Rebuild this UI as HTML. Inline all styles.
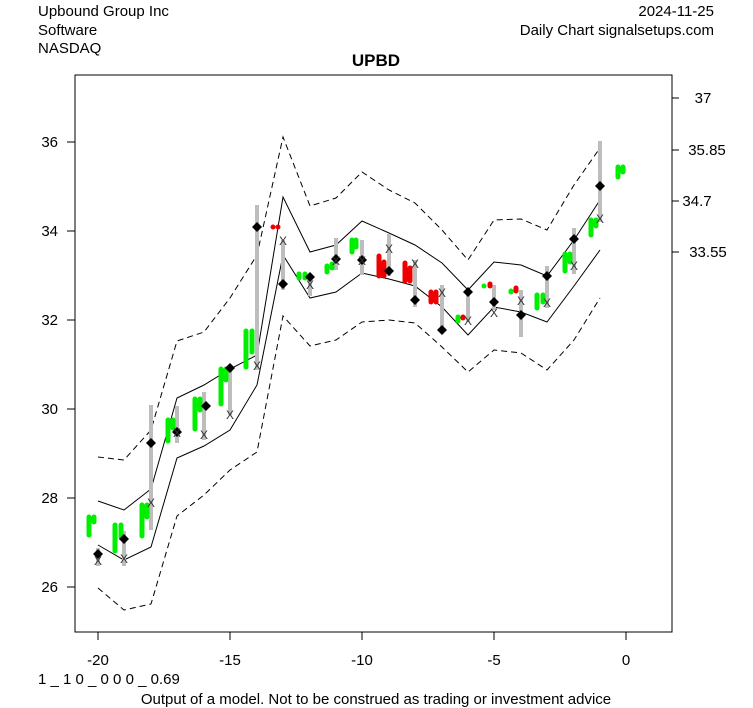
<!DOCTYPE html>
<html><head><meta charset="utf-8"><style>
body{margin:0;background:#fff;}
svg{display:block;font-family:"Liberation Sans",Arial,sans-serif;}
</style></head><body>
<svg width="753" height="708" viewBox="0 0 753 708" xmlns="http://www.w3.org/2000/svg">
<rect width="753" height="708" fill="#fff"/>
<text x="38" y="16" font-size="15">Upbound Group Inc</text>
<text x="38" y="35" font-size="15">Software</text>
<text x="38" y="53" font-size="15">NASDAQ</text>
<text x="714" y="16" font-size="15" text-anchor="end">2024-11-25</text>
<text x="714" y="35" font-size="15" text-anchor="end">Daily Chart signalsetups.com</text>
<text x="376" y="66" font-size="17" font-weight="bold" text-anchor="middle">UPBD</text>
<rect x="75" y="75" width="597" height="557" fill="none" stroke="#000"/>
<g stroke="#000">
<line x1="98" y1="632" x2="98" y2="640"/><line x1="230" y1="632" x2="230" y2="640"/><line x1="362" y1="632" x2="362" y2="640"/><line x1="494" y1="632" x2="494" y2="640"/><line x1="626" y1="632" x2="626" y2="640"/>
<line x1="67" y1="142" x2="75" y2="142"/><line x1="67" y1="231" x2="75" y2="231"/><line x1="67" y1="320" x2="75" y2="320"/><line x1="67" y1="409" x2="75" y2="409"/><line x1="67" y1="498" x2="75" y2="498"/><line x1="67" y1="587" x2="75" y2="587"/>
<line x1="672" y1="98" x2="679" y2="98"/><line x1="672" y1="150" x2="679" y2="150"/><line x1="672" y1="201" x2="679" y2="201"/><line x1="672" y1="252" x2="679" y2="252"/>
</g>
<g font-size="15" text-anchor="middle">
<text x="98" y="665">-20</text><text x="230" y="665">-15</text><text x="362" y="665">-10</text><text x="494" y="665">-5</text><text x="626" y="665">0</text>
</g>
<g font-size="15" text-anchor="end">
<text x="58" y="147">36</text><text x="58" y="236">34</text><text x="58" y="325">32</text><text x="58" y="414">30</text><text x="58" y="503">28</text><text x="58" y="592">26</text>
</g>
<g font-size="15" text-anchor="middle">
<text x="703" y="103">37</text><text x="707" y="155">35.85</text><text x="697" y="206">34.7</text><text x="708" y="257">33.55</text>
</g>
<text x="38" y="684" font-size="15">1 _ 1 0 _ 0 0 0 _ 0.69</text>
<text x="376" y="704" font-size="15" text-anchor="middle">Output of a model. Not to be construed as trading or investment advice</text>
<g fill="none" stroke="#000" stroke-width="1">
<polyline points="98,501 124,510 151,489 177,398 204,385 230,369 257,355 283,197 310,252 336,245 362,221 389,233 415,245 442,263 468,290 494,262 521,265 547,276 574,240 600,200"/>
<polyline points="98,545 124,560 151,547 177,458 204,446 230,430 257,385 283,255 310,298 336,292 362,273 389,279 415,286 442,307 468,335 494,307 521,312 547,322 574,286 600,250"/>
<polyline stroke-dasharray="6,4" points="98,457 124,460 151,430 177,341 204,332 230,298 257,255 283,137 310,206 336,198 362,172 389,190 415,203 442,230 468,260 494,220 521,219 547,230 574,185 600,148"/>
<polyline stroke-dasharray="6,4" points="98,588 124,610 151,604 177,516 204,495 230,470 257,452 283,316 310,346 336,340 362,322 389,320 415,323 442,347 468,372 494,350 521,353 547,370 574,340 600,298"/>
</g>
<g stroke="#bdbdbd" stroke-width="4">
<line x1="98" y1="548" x2="98" y2="566"/><line x1="124" y1="531" x2="124" y2="566"/><line x1="151" y1="405" x2="151" y2="530"/><line x1="177" y1="406" x2="177" y2="443"/><line x1="204" y1="392" x2="204" y2="440"/><line x1="230" y1="367" x2="230" y2="415"/><line x1="257" y1="205" x2="257" y2="370"/><line x1="283" y1="240" x2="283" y2="290"/><line x1="310" y1="275" x2="310" y2="296"/><line x1="336" y1="238" x2="336" y2="270"/><line x1="362" y1="240" x2="362" y2="275"/><line x1="389" y1="234" x2="389" y2="276"/><line x1="415" y1="260" x2="415" y2="307"/><line x1="442" y1="285" x2="442" y2="330"/><line x1="468" y1="292" x2="468" y2="322"/><line x1="494" y1="285" x2="494" y2="310"/><line x1="521" y1="290" x2="521" y2="337"/><line x1="547" y1="266" x2="547" y2="308"/><line x1="574" y1="228" x2="574" y2="274"/><line x1="600" y1="141" x2="600" y2="222"/>
</g>
<g stroke-width="5" stroke-linecap="round">
<g stroke="#00ee00">
<line x1="89" y1="517" x2="89" y2="535"/><line x1="94" y1="517" x2="94" y2="522"/>
<line x1="115" y1="525" x2="115" y2="551"/><line x1="121" y1="525" x2="121" y2="537"/>
<line x1="142" y1="505" x2="142" y2="536"/><line x1="147" y1="505" x2="147" y2="517"/>
<line x1="168" y1="420" x2="168" y2="441"/><line x1="173" y1="420" x2="173" y2="428"/>
<line x1="195" y1="399" x2="195" y2="429"/><line x1="200" y1="399" x2="200" y2="410"/>
<line x1="221" y1="369" x2="221" y2="404"/><line x1="226" y1="369" x2="226" y2="380"/>
<line x1="246" y1="331" x2="246" y2="367"/><line x1="252" y1="331" x2="252" y2="352"/>
<line x1="299" y1="274" x2="299" y2="278"/><line x1="305" y1="274" x2="305" y2="278"/>
<line x1="327" y1="266" x2="327" y2="272"/><line x1="332" y1="264" x2="332" y2="268"/>
<line x1="352" y1="240" x2="352" y2="252"/><line x1="356" y1="240" x2="356" y2="247"/>
<line x1="458" y1="317" x2="458" y2="321"/>
<line x1="484" y1="286" x2="484" y2="286"/>
<line x1="511" y1="291" x2="511" y2="292"/>
<line x1="537" y1="295" x2="537" y2="308"/><line x1="543" y1="295" x2="543" y2="302"/>
<line x1="565" y1="254" x2="565" y2="271"/><line x1="570" y1="254" x2="570" y2="262"/>
<line x1="591" y1="220" x2="591" y2="235"/><line x1="596" y1="220" x2="596" y2="226"/>
<line x1="618" y1="167" x2="618" y2="177"/><line x1="623" y1="167" x2="623" y2="172"/>
</g>
<g stroke="#ee0000">
<line x1="273" y1="227" x2="273" y2="227"/><line x1="278" y1="227" x2="278" y2="227"/>
<line x1="379" y1="256" x2="379" y2="276"/><line x1="384" y1="262" x2="384" y2="276"/>
<line x1="405" y1="263" x2="405" y2="281"/><line x1="410" y1="268" x2="410" y2="281"/>
<line x1="431" y1="292" x2="431" y2="302"/><line x1="436" y1="292" x2="436" y2="302"/>
<line x1="463" y1="317" x2="463" y2="318"/>
<line x1="490" y1="284" x2="490" y2="286"/>
<line x1="516" y1="288" x2="516" y2="291"/>
</g>
</g>
<g fill="#000">
<path d="M98,549 l5,5 -5,5 -5,-5z"/><path d="M124,534 l5,5 -5,5 -5,-5z"/><path d="M151,438 l5,5 -5,5 -5,-5z"/><path d="M177,427 l5,5 -5,5 -5,-5z"/><path d="M206,401 l5,5 -5,5 -5,-5z"/><path d="M230,363 l5,5 -5,5 -5,-5z"/><path d="M257,222 l5,5 -5,5 -5,-5z"/><path d="M283,279 l5,5 -5,5 -5,-5z"/><path d="M310,272 l5,5 -5,5 -5,-5z"/><path d="M336,254 l5,5 -5,5 -5,-5z"/><path d="M362,255 l5,5 -5,5 -5,-5z"/><path d="M389,266 l5,5 -5,5 -5,-5z"/><path d="M415,295 l5,5 -5,5 -5,-5z"/><path d="M442,325 l5,5 -5,5 -5,-5z"/><path d="M468,287 l5,5 -5,5 -5,-5z"/><path d="M494,297 l5,5 -5,5 -5,-5z"/><path d="M521,310 l5,5 -5,5 -5,-5z"/><path d="M547,271 l5,5 -5,5 -5,-5z"/><path d="M574,234 l5,5 -5,5 -5,-5z"/><path d="M600,181 l5,5 -5,5 -5,-5z"/>
</g>
<g font-size="12" text-anchor="middle" fill="#333">
<text x="98" y="565">X</text><text x="124" y="563">X</text><text x="151" y="507">X</text><text x="177" y="437">X</text><text x="204" y="439">X</text><text x="230" y="419">X</text><text x="257" y="370">X</text><text x="283" y="245">X</text><text x="310" y="289">X</text><text x="336" y="265">X</text><text x="362" y="265">X</text><text x="389" y="253">X</text><text x="415" y="268">X</text><text x="442" y="297">X</text><text x="468" y="325">X</text><text x="494" y="317">X</text><text x="521" y="305">X</text><text x="547" y="307">X</text><text x="574" y="270">X</text><text x="600" y="223">X</text>
</g>
</svg>
</body></html>
